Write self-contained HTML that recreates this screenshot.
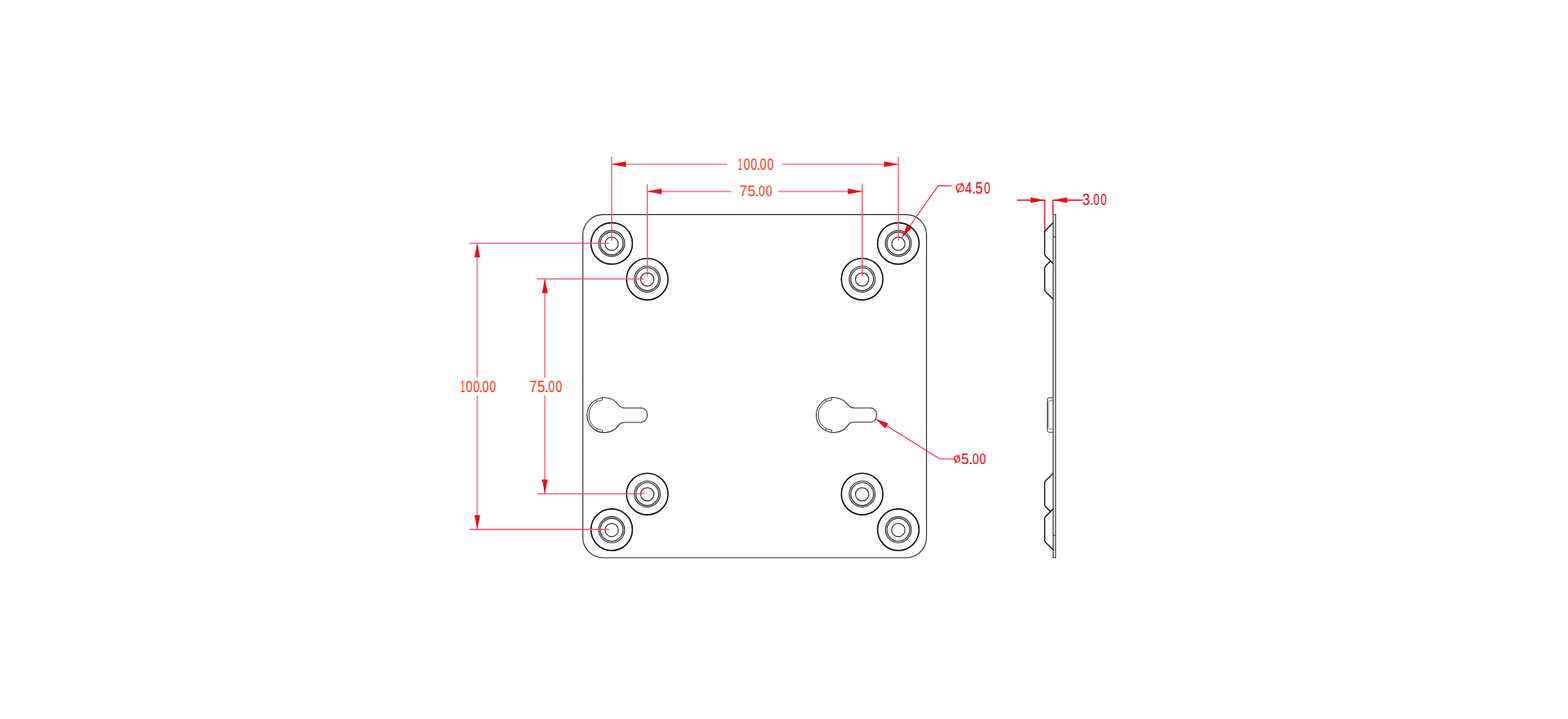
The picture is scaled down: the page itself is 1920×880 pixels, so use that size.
<!DOCTYPE html>
<html lang="en">
<head>
<meta charset="utf-8">
<title>Mounting plate drawing</title>
<style>
html,body{margin:0;padding:0;background:#fff;}
body{width:1920px;height:880px;overflow:hidden;font-family:"Liberation Sans",sans-serif;}
svg{display:block;}
</style>
</head>
<body>
<svg width="1920" height="880" viewBox="0 0 1920 880">
<rect width="1920" height="880" fill="#fff"/>
<g fill="none" stroke="#2a2a2a" stroke-width="1.15">
<rect x="713.7" y="262.6" width="420.80" height="420.10" rx="25" ry="25"/>
</g>
<g fill="none" stroke="#111">
<circle cx="749.0" cy="297.95" r="25.4" stroke-width="1.65"/>
<circle cx="749.0" cy="297.95" r="14.9" stroke-width="1.2" stroke="#d2d2d2"/>
<circle cx="749.0" cy="297.95" r="15.9" stroke-width="1.15" stroke="#303030"/>
<circle cx="749.0" cy="297.95" r="13.9" stroke-width="1.15" stroke="#303030"/>
<circle cx="749.0" cy="298.3" r="8.15" stroke-width="1.15" stroke="#2a2a2a"/>
<circle cx="792.6" cy="341.65" r="25.4" stroke-width="1.65"/>
<circle cx="792.6" cy="341.65" r="14.9" stroke-width="1.2" stroke="#d2d2d2"/>
<circle cx="792.6" cy="341.65" r="15.9" stroke-width="1.15" stroke="#303030"/>
<circle cx="792.6" cy="341.65" r="13.9" stroke-width="1.15" stroke="#303030"/>
<circle cx="792.6" cy="342.0" r="8.15" stroke-width="1.15" stroke="#2a2a2a"/>
<circle cx="1100.0" cy="297.95" r="25.4" stroke-width="1.65"/>
<circle cx="1100.0" cy="297.95" r="14.9" stroke-width="1.2" stroke="#d2d2d2"/>
<circle cx="1100.0" cy="297.95" r="15.9" stroke-width="1.15" stroke="#303030"/>
<circle cx="1100.0" cy="297.95" r="13.9" stroke-width="1.15" stroke="#303030"/>
<circle cx="1100.0" cy="298.3" r="8.15" stroke-width="1.15" stroke="#2a2a2a"/>
<circle cx="1055.7" cy="341.65" r="25.4" stroke-width="1.65"/>
<circle cx="1055.7" cy="341.65" r="14.9" stroke-width="1.2" stroke="#d2d2d2"/>
<circle cx="1055.7" cy="341.65" r="15.9" stroke-width="1.15" stroke="#303030"/>
<circle cx="1055.7" cy="341.65" r="13.9" stroke-width="1.15" stroke="#303030"/>
<circle cx="1055.7" cy="342.0" r="8.15" stroke-width="1.15" stroke="#2a2a2a"/>
<circle cx="749.0" cy="648.35" r="25.4" stroke-width="1.65"/>
<circle cx="749.0" cy="648.35" r="14.9" stroke-width="1.2" stroke="#d2d2d2"/>
<circle cx="749.0" cy="648.35" r="15.9" stroke-width="1.15" stroke="#303030"/>
<circle cx="749.0" cy="648.35" r="13.9" stroke-width="1.15" stroke="#303030"/>
<circle cx="749.0" cy="648.7" r="8.15" stroke-width="1.15" stroke="#2a2a2a"/>
<circle cx="792.6" cy="604.65" r="25.4" stroke-width="1.65"/>
<circle cx="792.6" cy="604.65" r="14.9" stroke-width="1.2" stroke="#d2d2d2"/>
<circle cx="792.6" cy="604.65" r="15.9" stroke-width="1.15" stroke="#303030"/>
<circle cx="792.6" cy="604.65" r="13.9" stroke-width="1.15" stroke="#303030"/>
<circle cx="792.6" cy="605.0" r="8.15" stroke-width="1.15" stroke="#2a2a2a"/>
<circle cx="1100.0" cy="648.35" r="25.4" stroke-width="1.65"/>
<circle cx="1100.0" cy="648.35" r="14.9" stroke-width="1.2" stroke="#d2d2d2"/>
<circle cx="1100.0" cy="648.35" r="15.9" stroke-width="1.15" stroke="#303030"/>
<circle cx="1100.0" cy="648.35" r="13.9" stroke-width="1.15" stroke="#303030"/>
<circle cx="1100.0" cy="648.7" r="8.15" stroke-width="1.15" stroke="#2a2a2a"/>
<circle cx="1055.7" cy="604.65" r="25.4" stroke-width="1.65"/>
<circle cx="1055.7" cy="604.65" r="14.9" stroke-width="1.2" stroke="#d2d2d2"/>
<circle cx="1055.7" cy="604.65" r="15.9" stroke-width="1.15" stroke="#303030"/>
<circle cx="1055.7" cy="604.65" r="13.9" stroke-width="1.15" stroke="#303030"/>
<circle cx="1055.7" cy="605.0" r="8.15" stroke-width="1.15" stroke="#2a2a2a"/>
</g>
<path d="M757.41,495.52 A21.4,21.4 0 1 0 757.41,520.68 Q760.30,516.90 764.60,516.90 L784.90,516.90 A7.6,7.6 0 0 0 792.50,509.30 L792.50,506.90 A7.6,7.6 0 0 0 784.90,499.30 L764.60,499.30 Q760.30,499.30 757.41,495.52 Z" fill="none" stroke="#2a2a2a" stroke-width="1.05"/><path d="M731.18,491.32 A19.0,19.0 0 0 0 731.18,524.88" fill="none" stroke="#383838" stroke-width="1"/><path d="M737.49,486.86 L737.58,489.84 L731.18,491.32 L730.05,489.20" fill="none" stroke="#383838" stroke-width="0.9"/><path d="M737.49,529.34 L737.58,526.36 L731.18,524.88 L730.05,527.00" fill="none" stroke="#383838" stroke-width="0.9"/>
<path d="M1038.21,495.42 A21.4,21.4 0 1 0 1038.21,520.58 Q1041.10,516.80 1045.40,516.80 L1065.70,516.80 A7.6,7.6 0 0 0 1073.30,509.20 L1073.30,506.80 A7.6,7.6 0 0 0 1065.70,499.20 L1045.40,499.20 Q1041.10,499.20 1038.21,495.42 Z" fill="none" stroke="#2a2a2a" stroke-width="1.05"/><path d="M1011.98,491.22 A19.0,19.0 0 0 0 1011.98,524.78" fill="none" stroke="#383838" stroke-width="1"/><path d="M1018.29,486.76 L1018.38,489.74 L1011.98,491.22 L1010.85,489.10" fill="none" stroke="#383838" stroke-width="0.9"/><path d="M1018.29,529.24 L1018.38,526.26 L1011.98,524.78 L1010.85,526.90" fill="none" stroke="#383838" stroke-width="0.9"/>
<g font-family="'Liberation Sans', sans-serif">
<line x1="749.0" y1="192" x2="749.0" y2="294.6" stroke="#ef4f63" stroke-width="1.35"/>
<line x1="1100.0" y1="192" x2="1100.0" y2="294.6" stroke="#ef4f63" stroke-width="1.35"/>
<line x1="749.0" y1="201.0" x2="890.5" y2="201.0" stroke="#f47c89" stroke-width="1.7"/>
<line x1="957.5" y1="201.0" x2="1100.0" y2="201.0" stroke="#f47c89" stroke-width="1.7"/>
<polygon points="749.00,201.00 766.50,197.50 766.50,204.50" fill="#ea0a1c"/>
<polygon points="1100.00,201.00 1082.50,204.50 1082.50,197.50" fill="#ea0a1c"/>
<text font-size="19.38" fill="#f3452c" stroke="#f3452c" stroke-width="0.2" stroke-linejoin="round"><tspan x="903.84" y="208.23" rotate="0" textLength="5.17" lengthAdjust="spacingAndGlyphs">1</tspan><tspan x="910.49" y="208.23" rotate="0" textLength="8.05" lengthAdjust="spacingAndGlyphs">0</tspan><tspan x="919.30" y="208.23" rotate="0" textLength="7.81" lengthAdjust="spacingAndGlyphs">0</tspan><tspan x="926.42" y="208.23" rotate="0" textLength="4.68" lengthAdjust="spacingAndGlyphs">.</tspan><tspan x="930.49" y="208.23" rotate="0" textLength="7.93" lengthAdjust="spacingAndGlyphs">0</tspan><tspan x="939.51" y="208.23" rotate="0" textLength="7.70" lengthAdjust="spacingAndGlyphs">0</tspan></text>
<line x1="792.6" y1="225.5" x2="792.6" y2="338.3" stroke="#ef4f63" stroke-width="1.35"/>
<line x1="1055.7" y1="225.5" x2="1055.7" y2="338.3" stroke="#ef4f63" stroke-width="1.35"/>
<line x1="792.6" y1="234.3" x2="895" y2="234.3" stroke="#f47c89" stroke-width="1.7"/>
<line x1="953" y1="234.3" x2="1055.7" y2="234.3" stroke="#f47c89" stroke-width="1.7"/>
<polygon points="792.60,234.30 810.10,230.80 810.10,237.80" fill="#ea0a1c"/>
<polygon points="1055.70,234.30 1038.20,237.80 1038.20,230.80" fill="#ea0a1c"/>
<text font-size="19.24" fill="#f3452c" stroke="#f3452c" stroke-width="0.2" stroke-linejoin="round"><tspan x="905.83" y="239.83" rotate="0" textLength="8.94" lengthAdjust="spacingAndGlyphs">7</tspan><tspan x="915.47" y="239.83" rotate="0" textLength="9.41" lengthAdjust="spacingAndGlyphs">5</tspan><tspan x="924.03" y="239.83" rotate="0" textLength="5.56" lengthAdjust="spacingAndGlyphs">.</tspan><tspan x="929.01" y="239.83" rotate="0" textLength="7.70" lengthAdjust="spacingAndGlyphs">0</tspan><tspan x="937.81" y="239.83" rotate="0" textLength="7.70" lengthAdjust="spacingAndGlyphs">0</tspan></text>
<line x1="575" y1="297.6" x2="745.5" y2="297.6" stroke="#ef4f63" stroke-width="1.35"/>
<line x1="575" y1="648.0" x2="745.5" y2="648.0" stroke="#ef4f63" stroke-width="1.35"/>
<line x1="584.4" y1="297.6" x2="584.4" y2="462" stroke="#f47c89" stroke-width="1.7"/>
<line x1="584.4" y1="483.8" x2="584.4" y2="648.0" stroke="#f47c89" stroke-width="1.7"/>
<polygon points="584.40,297.60 587.90,315.10 580.90,315.10" fill="#ea0a1c"/>
<polygon points="584.40,648.00 580.90,630.50 587.90,630.50" fill="#ea0a1c"/>
<text font-size="19.80" fill="#f3452c" stroke="#f3452c" stroke-width="0.2" stroke-linejoin="round"><tspan x="563.94" y="479.92" rotate="0" textLength="5.17" lengthAdjust="spacingAndGlyphs">1</tspan><tspan x="570.59" y="479.92" rotate="0" textLength="8.05" lengthAdjust="spacingAndGlyphs">0</tspan><tspan x="579.40" y="479.92" rotate="0" textLength="7.81" lengthAdjust="spacingAndGlyphs">0</tspan><tspan x="586.52" y="479.92" rotate="0" textLength="4.68" lengthAdjust="spacingAndGlyphs">.</tspan><tspan x="590.59" y="479.92" rotate="0" textLength="7.93" lengthAdjust="spacingAndGlyphs">0</tspan><tspan x="599.61" y="479.92" rotate="0" textLength="7.70" lengthAdjust="spacingAndGlyphs">0</tspan></text>
<line x1="657.5" y1="341.3" x2="789.1" y2="341.3" stroke="#ef4f63" stroke-width="1.35"/>
<line x1="657.5" y1="604.3" x2="789.1" y2="604.3" stroke="#ef4f63" stroke-width="1.35"/>
<line x1="667.2" y1="341.3" x2="667.2" y2="462" stroke="#f47c89" stroke-width="1.7"/>
<line x1="667.2" y1="483.8" x2="667.2" y2="604.3" stroke="#f47c89" stroke-width="1.7"/>
<polygon points="667.20,341.30 670.70,358.80 663.70,358.80" fill="#ea0a1c"/>
<polygon points="667.20,604.30 663.70,586.80 670.70,586.80" fill="#ea0a1c"/>
<text font-size="19.80" fill="#f3452c" stroke="#f3452c" stroke-width="0.2" stroke-linejoin="round"><tspan x="648.43" y="479.92" rotate="0" textLength="8.94" lengthAdjust="spacingAndGlyphs">7</tspan><tspan x="658.07" y="479.92" rotate="0" textLength="9.41" lengthAdjust="spacingAndGlyphs">5</tspan><tspan x="666.63" y="479.92" rotate="0" textLength="5.56" lengthAdjust="spacingAndGlyphs">.</tspan><tspan x="671.61" y="479.92" rotate="0" textLength="7.70" lengthAdjust="spacingAndGlyphs">0</tspan><tspan x="680.41" y="479.92" rotate="0" textLength="7.70" lengthAdjust="spacingAndGlyphs">0</tspan></text>
<polyline points="1104,291 1148.7,227.4 1165.2,227.4" fill="none" stroke="#ec2238" stroke-width="1.15"/>
<polygon points="1104.00,291.00 1110.62,275.49 1116.35,279.51" fill="#ea0a1c"/>
<text font-size="19.38" fill="#ea0f26" stroke="#ea0f26" stroke-width="0.2" stroke-linejoin="round"><tspan x="1171.05" y="236.14" font-size="15.11" rotate="-13" stroke-width="0">Ø</tspan><tspan x="1181.71" y="236.83" rotate="0" textLength="8.18" lengthAdjust="spacingAndGlyphs">4</tspan><tspan x="1190.12" y="236.83" rotate="0" textLength="4.97" lengthAdjust="spacingAndGlyphs">.</tspan><tspan x="1194.30" y="236.83" rotate="0" textLength="9.05" lengthAdjust="spacingAndGlyphs">5</tspan><tspan x="1205.03" y="236.83" rotate="0" textLength="7.46" lengthAdjust="spacingAndGlyphs">0</tspan></text>
<polyline points="1071.8,512.5 1150.9,561.7 1168.5,561.7" fill="none" stroke="#ec2238" stroke-width="1.15"/>
<polygon points="1071.80,512.50 1087.66,518.23 1083.97,524.18" fill="#ea0a1c"/>
<text font-size="19.24" fill="#ea0f26" stroke="#ea0f26" stroke-width="0.2" stroke-linejoin="round"><tspan x="1168.29" y="566.90" font-size="15.88" rotate="-14" stroke-width="0">ø</tspan><tspan x="1177.07" y="567.73" rotate="0" textLength="9.41" lengthAdjust="spacingAndGlyphs">5</tspan><tspan x="1186.22" y="567.73" rotate="0" textLength="4.97" lengthAdjust="spacingAndGlyphs">.</tspan><tspan x="1190.70" y="567.73" rotate="0" textLength="7.81" lengthAdjust="spacingAndGlyphs">0</tspan><tspan x="1199.61" y="567.73" rotate="0" textLength="7.70" lengthAdjust="spacingAndGlyphs">0</tspan></text>
<line x1="1245.5" y1="245.0" x2="1279.3" y2="245.0" stroke="#ea0a1c" stroke-width="1.35"/>
<line x1="1289.3" y1="245.0" x2="1326" y2="245.0" stroke="#ea0a1c" stroke-width="1.35"/>
<line x1="1279.3" y1="244.4" x2="1279.3" y2="285" stroke="#ea0a1c" stroke-width="1.35"/>
<line x1="1289.3" y1="244.4" x2="1289.3" y2="262.5" stroke="#ea0a1c" stroke-width="1.35"/>
<polygon points="1279.30,245.00 1261.80,248.50 1261.80,241.50" fill="#ea0a1c"/>
<polygon points="1289.30,245.00 1306.80,241.50 1306.80,248.50" fill="#ea0a1c"/>
<text font-size="19.38" fill="#ea0f26" stroke="#ea0f26" stroke-width="0.2" stroke-linejoin="round"><tspan x="1325.54" y="251.13" rotate="0" textLength="8.94" lengthAdjust="spacingAndGlyphs">3</tspan><tspan x="1334.42" y="251.13" rotate="0" textLength="4.68" lengthAdjust="spacingAndGlyphs">.</tspan><tspan x="1338.82" y="251.13" rotate="0" textLength="7.58" lengthAdjust="spacingAndGlyphs">0</tspan><tspan x="1347.73" y="251.13" rotate="0" textLength="7.35" lengthAdjust="spacingAndGlyphs">0</tspan></text>
</g>
<rect x="1289.4" y="262.6" width="3.30" height="420.10" fill="#cfcfcf" stroke="#3a3a3a" stroke-width="1"/>
<g fill="none" stroke="#141414" stroke-width="1.4" stroke-linejoin="round" stroke-linecap="round">
<path d="M1289.4,272.80 L1280.4,281.70 Q1279.2,282.80 1279.2,284.40 L1279.2,310.80 Q1279.2,312.40 1280.4,313.50 L1289.4,322.40"/>
<path d="M1286.39,319.45 L1280.4,325.40 Q1279.2,326.50 1279.2,328.10 L1279.2,354.50 Q1279.2,356.10 1280.4,357.20 L1289.4,366.10"/>
<path d="M1289.4,623.20 L1280.4,632.10 Q1279.2,633.20 1279.2,634.80 L1279.2,661.20 Q1279.2,662.80 1280.4,663.90 L1289.4,672.80"/>
<path d="M1289.4,579.50 L1280.4,588.40 Q1279.2,589.50 1279.2,591.10 L1279.2,617.50 Q1279.2,619.10 1280.4,620.20 L1286.39,626.15"/>
</g>
<g fill="none" stroke="#333" stroke-linejoin="round">
<path d="M1289.4,486.9 L1284.2,486.9 Q1282.4,487.2 1282.4,489.6 L1282.4,526.4 Q1282.4,528.8 1284.2,529.1 L1289.4,529.1" stroke-width="1"/>
<path d="M1289.4,490.6 L1284.6,490.6 Q1283.7,490.8 1283.7,492 L1283.7,523.6 Q1283.7,524.8 1284.6,525 L1289.4,525" stroke="#555" stroke-width="0.8"/>
<path d="M1289.4,290 L1292.7,290 M1289.4,655.3 L1292.7,655.3" stroke="#333" stroke-width="1"/>
</g>
</svg>
</body>
</html>
